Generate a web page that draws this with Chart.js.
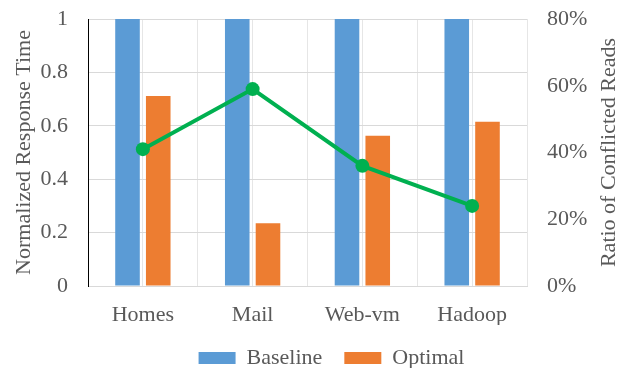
<!DOCTYPE html>
<html>
<head>
<meta charset="utf-8">
<script src="https://cdn.jsdelivr.net/npm/chart.js@4"></script>
<style>
html, body { margin: 0; padding: 0; background: #fff; overflow: hidden; }
#wrap { width: 619px; height: 368px; overflow: hidden; }
</style>
</head>
<body>
<div id="wrap"><canvas id="chart" width="619" height="379"></canvas></div>
<script>
// data
const categories = ['Homes', 'Mail', 'Web-vm', 'Hadoop'];
const baseline = [1, 1, 1, 1];
const optimal = [0.712, 0.235, 0.563, 0.615];
const conflictedReads = [0.41, 0.59, 0.36, 0.24];
const leftTitle = 'Normalized Response Time';
const rightTitle = 'Ratio of Conflicted Reads';

const FONT = '"Liberation Serif", "Times New Roman", serif';
const TEXT = '#595959';

// both axis titles read bottom-to-top, so draw them ourselves
const axisTitles = {
    id: 'axisTitles',
    afterDraw(chart) {
        const ctx = chart.ctx;
        const area = chart.chartArea;
        const midY = (area.top + area.bottom) / 2;
        ctx.save();
        ctx.font = '22px ' + FONT;
        ctx.fillStyle = TEXT;
        ctx.textAlign = 'center';
        ctx.textBaseline = 'middle';
        [[leftTitle, 24], [rightTitle, 609]].forEach(([text, x]) => {
            ctx.save();
            ctx.translate(x, midY);
            ctx.rotate(-Math.PI / 2);
            ctx.fillText(text, 0, 0);
            ctx.restore();
        });
        ctx.restore();
    }
};

// legend in the reference sits a bit right of centre
const legendShift = {
    id: 'legendShift',
    afterLayout(chart) {
        chart.legend.left += 22;
        chart.legend.right += 22;
    }
};

// fixed axis width, and no extra top/bottom padding from the tick padding
function fixWidth(w) {
    return scale => {
        scale.width = w;
        scale.paddingTop = 0;
        scale.paddingBottom = 0;
    };
}

const ctx = document.getElementById('chart').getContext('2d');
new Chart(ctx, {
    data: {
        labels: categories,
        datasets: [
            {
                type: 'line',
                label: 'Conflicted Reads',
                data: conflictedReads,
                yAxisID: 'y1',
                borderColor: '#00B050',
                backgroundColor: '#00B050',
                borderWidth: 4,
                pointRadius: 7,
                pointBackgroundColor: '#00B050',
                pointBorderWidth: 0,
                order: 0
            },
            {
                type: 'bar',
                label: 'Baseline',
                data: baseline,
                yAxisID: 'y',
                backgroundColor: '#5B9BD5',
                categoryPercentage: 0.56,
                barPercentage: 0.8,
                order: 1
            },
            {
                type: 'bar',
                label: 'Optimal',
                data: optimal,
                yAxisID: 'y',
                backgroundColor: '#ED7D31',
                categoryPercentage: 0.56,
                barPercentage: 0.8,
                order: 1
            }
        ]
    },
    options: {
        responsive: false,
        animation: false,
        layout: { padding: { top: 19, left: 0, right: 0, bottom: 0 } },
        plugins: {
            tooltip: { enabled: false },
            legend: {
                position: 'bottom',
                labels: {
                    font: { family: FONT, size: 22 },
                    color: TEXT,
                    boxWidth: 37,
                    boxHeight: 12,
                    padding: 22,
                    filter: item => item.text !== 'Conflicted Reads'
                }
            }
        },
        scales: {
            x: {
                type: 'category',
                grid: { display: false },
                border: { color: '#d9d9d9', width: 1 },
                ticks: { font: { family: FONT, size: 22 }, color: TEXT, padding: 8 },
                afterFit: scale => { scale.height = 39; }
            },
            x2: {
                type: 'linear',
                position: 'top',
                min: 0,
                max: 4,
                ticks: { display: false, stepSize: 0.5 },
                grid: {
                    drawTicks: false,
                    color: c => c.index === 0 ? 'rgba(0,0,0,0)' : '#e6e6e6'
                },
                border: { display: false },
                afterFit: scale => { scale.height = 0; }
            },
            y: {
                position: 'left',
                min: 0,
                max: 1,
                ticks: {
                    stepSize: 0.2,
                    font: { family: FONT, size: 22 },
                    color: TEXT,
                    padding: 20,
                    callback: v => +v.toFixed(1)
                },
                grid: { color: '#d9d9d9', drawTicks: false },
                border: { color: '#000', width: 1 },
                afterFit: fixWidth(88)
            },
            y1: {
                position: 'right',
                min: 0,
                max: 0.8,
                ticks: {
                    stepSize: 0.2,
                    font: { family: FONT, size: 22 },
                    color: TEXT,
                    padding: 20,
                    callback: v => Math.round(v * 100) + '%'
                },
                grid: { display: false, drawTicks: false },
                border: { display: false },
                afterFit: fixWidth(92)
            }
        }
    },
    plugins: [axisTitles, legendShift]
});
</script>
</body>
</html>
